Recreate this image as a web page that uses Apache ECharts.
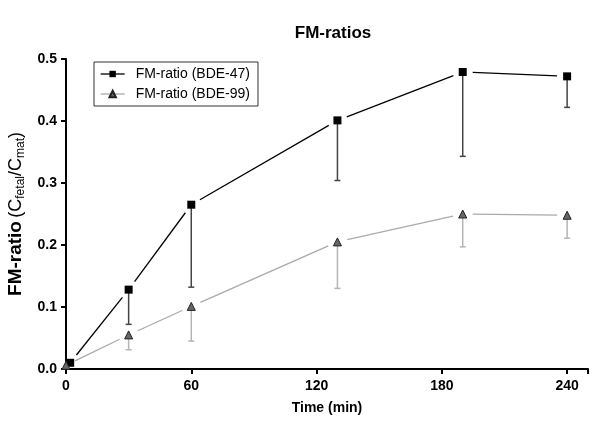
<!DOCTYPE html>
<html>
<head>
<meta charset="utf-8">
<script src="https://cdn.jsdelivr.net/npm/echarts@6/dist/echarts.min.js"></script>
<style>html,body{margin:0;padding:0;background:#fff}#c{width:600px;height:430px}</style>
</head>
<body>
<div id="c"></div>
<script>
// Data
var xTicks = [0, 60, 120, 180, 240];
var time47 = [2, 30, 60, 130, 190, 240];
var ratio47 = [0.010, 0.128, 0.265, 0.401, 0.479, 0.472];
var low47   = [0.010, 0.072, 0.132, 0.304, 0.343, 0.422];
var time99 = [0, 30, 60, 130, 190, 240];
var ratio99 = [0.006, 0.055, 0.101, 0.205, 0.250, 0.248];
var low99   = [0.006, 0.031, 0.045, 0.130, 0.197, 0.211];

var FONT = '"Liberation Sans", Arial, sans-serif';

function pts(t, v) { return t.map(function (x, i) { return [x, v[i]]; }); }
function segs(t, v) {
  var out = [];
  for (var i = 0; i < t.length - 1; i++) out.push([t[i], v[i], t[i + 1], v[i + 1]]);
  return out;
}
function errs(t, v, l) { return t.map(function (x, i) { return [x, v[i], l[i]]; }); }

function gapLine(color, width, gap) {
  return function (params, api) {
    var a = api.coord([api.value(0), api.value(1)]);
    var b = api.coord([api.value(2), api.value(3)]);
    var dx = b[0] - a[0], dy = b[1] - a[1];
    var len = Math.sqrt(dx * dx + dy * dy);
    if (len <= 2 * gap) return null;
    var ux = dx / len, uy = dy / len;
    return {
      type: 'line',
      shape: { x1: a[0] + ux * gap, y1: a[1] + uy * gap, x2: b[0] - ux * gap, y2: b[1] - uy * gap },
      style: { stroke: color, lineWidth: width }
    };
  };
}
function errBar(color, width) {
  return function (params, api) {
    var top = api.coord([api.value(0), api.value(1)]);
    var bot = api.coord([api.value(0), api.value(2)]);
    if (Math.abs(bot[1] - top[1]) < 1) return null;
    return {
      type: 'group',
      children: [
        { type: 'line', shape: { x1: top[0], y1: top[1], x2: bot[0], y2: bot[1] }, style: { stroke: color, lineWidth: width } },
        { type: 'line', shape: { x1: bot[0] - 3, y1: bot[1], x2: bot[0] + 3, y2: bot[1] }, style: { stroke: color, lineWidth: width } }
      ]
    };
  };
}

var chart = echarts.init(document.getElementById('c'), null, { renderer: 'canvas' });
chart.setOption({
  animation: false,
  backgroundColor: '#fff',
  textStyle: { fontFamily: FONT },
  title: {
    text: 'FM-ratios', left: 328, top: 20, textAlign: 'center',
    textStyle: { fontFamily: FONT, fontSize: 17, fontWeight: 'bold', color: '#000' }
  },
  grid: { left: 66, right: 12, top: 59, bottom: 61, containLabel: false, outerBoundsMode: 'none' },
  legend: {
    left: 94, top: 62, orient: 'vertical',
    borderColor: '#333', borderWidth: 1, padding: [5, 8, 5, 6],
    itemGap: 6, itemWidth: 24, itemHeight: 8,
    textStyle: { fontFamily: FONT, fontSize: 14, color: '#000', padding: [0, 0, 0, 6] },
    data: [
      { name: 'FM-ratio (BDE-47)', lineStyle: { opacity: 1, width: 1.3, color: '#000' } },
      { name: 'FM-ratio (BDE-99)', lineStyle: { opacity: 1, width: 1.3, color: '#aaa' } }
    ]
  },
  xAxis: {
    type: 'value', min: 0, max: 250, interval: 60,
    name: 'Time (min)', nameLocation: 'middle', nameGap: 32,
    nameTextStyle: { fontFamily: FONT, fontSize: 14, fontWeight: 'bold', color: '#000' },
    axisLine: { onZero: false, lineStyle: { color: '#000', width: 2 } },
    axisTick: { length: 5, lineStyle: { color: '#000', width: 2 } },
    axisLabel: {
      fontFamily: FONT, fontSize: 14, fontWeight: 'bold', color: '#000', margin: 10,
      formatter: function (v) { return xTicks.indexOf(v) >= 0 ? String(v) : ''; }
    },
    splitLine: { show: false }
  },
  yAxis: {
    type: 'value', min: 0, max: 0.5, interval: 0.1,
    name: '{b|FM-ratio} {n|(C}{s|fetal}{n|/C}{s|mat}{n|)}',
    nameLocation: 'middle', nameRotate: 90, nameGap: 32,
    nameTextStyle: {
      fontFamily: FONT, color: '#000',
      rich: {
        b: { fontFamily: FONT, fontSize: 19, fontWeight: 'bold', color: '#000', lineHeight: 22 },
        n: { fontFamily: FONT, fontSize: 18, color: '#000', lineHeight: 22 },
        s: { fontFamily: FONT, fontSize: 12, color: '#000', lineHeight: 22, verticalAlign: 'bottom', padding: [9, 0, 0, 0] }
      }
    },
    axisLine: { lineStyle: { color: '#000', width: 2 } },
    axisTick: { length: 5, lineStyle: { color: '#000', width: 2 } },
    axisLabel: {
      fontFamily: FONT, fontSize: 14, fontWeight: 'bold', color: '#000', margin: 9,
      formatter: function (v) { return v.toFixed(1); }
    },
    splitLine: { show: false }
  },
  series: [
    { type: 'custom', name: 'l47', renderItem: gapLine('#000', 1.3, 10), data: segs(time47, ratio47), silent: true, z: 2 },
    { type: 'custom', name: 'l99', renderItem: gapLine('#aaa', 1.3, 10), data: segs(time99, ratio99), silent: true, z: 2 },
    { type: 'custom', name: 'e47', renderItem: errBar('#444', 1.5), data: errs(time47, ratio47, low47), silent: true, z: 3 },
    { type: 'custom', name: 'e99', renderItem: errBar('#b5b5b5', 1.5), data: errs(time99, ratio99, low99), silent: true, z: 3 },
    {
      type: 'line', name: 'FM-ratio (BDE-47)', data: pts(time47, ratio47),
      symbol: 'rect', symbolSize: 8, showAllSymbol: true,
      lineStyle: { opacity: 0, width: 0 },
      itemStyle: { color: '#000', borderColor: '#000', borderWidth: 0 }, z: 5
    },
    {
      type: 'line', name: 'FM-ratio (BDE-99)', data: pts(time99, ratio99),
      symbol: 'triangle', symbolSize: 8, showAllSymbol: true,
      lineStyle: { opacity: 0, width: 0 },
      itemStyle: { color: '#666', borderColor: '#222', borderWidth: 1 }, z: 5
    }
  ]
});
</script>
</body>
</html>
